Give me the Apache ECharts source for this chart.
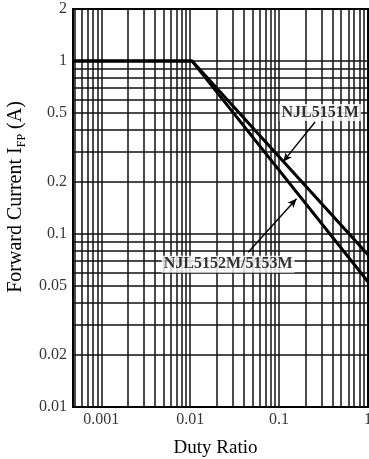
<!DOCTYPE html>
<html>
<head>
<meta charset="utf-8">
<script src="https://cdn.jsdelivr.net/npm/echarts@6/dist/echarts.min.js"></script>
<style>
  html, body { margin: 0; padding: 0; background: #ffffff; }
  #chart { width: 369px; height: 459px; }
</style>
</head>
<body>
<div id="chart"></div>
<script>
// Pulse forward current derating vs. duty ratio (log-log)
const dutyRatio = [0.00048, 0.0105, 1];
const ifpNJL5151M = [1, 1, 0.076];
const ifpNJL5152M = [1, 1, 0.053];

const xTickValues = [0.001, 0.01, 0.1, 1];
const xTickLabels = ['0.001', '0.01', '0.1', '1'];
const yTickValues = [0.01, 0.02, 0.05, 0.1, 0.2, 0.5, 1, 2];
const yTickLabels = ['0.01', '0.02', '0.05', '0.1', '0.2', '0.5', '1', '2'];

// log grid: mantissas 1..9 for each decade shown
const gridMantissas = [1, 2, 3, 4, 5, 6, 7, 8, 9];
const xGridDecades = [0.0001, 0.001, 0.01, 0.1];
const yGridDecades = [0.01, 0.1, 1];

const X_MIN = 0.00048, X_MAX = 1, Y_MIN = 0.01, Y_MAX = 2;

// callout text anchors and leader lines (in data units)
const calloutNames = ['NJL5151M', 'NJL5152M/5153M'];
const calloutAt = [[0.29, 0.505], [0.0267, 0.0669]];
const leaderFrom = [[0.254, 0.444], [0.0449, 0.0785]];
const leaderTo = [[0.111, 0.262], [0.157, 0.16]];

const SERIF = '"Liberation Serif", "Times New Roman", serif';
const INK = '#000000';

function gridValues(decades, lo, hi) {
  const out = [];
  decades.forEach(d => gridMantissas.forEach(m => {
    const v = +(m * d).toPrecision(6);
    if (v > lo * 1.0001 && v < hi * 0.9999 && v <= 1) out.push(v);
  }));
  return out;
}
const xGridLines = gridValues(xGridDecades, X_MIN, X_MAX);
const yGridLines = gridValues(yGridDecades, Y_MIN, Y_MAX);

const chart = echarts.init(document.getElementById('chart'), null, { renderer: 'canvas' });

const gridLineStyle = { color: '#111111', width: 1.5, type: 'solid' };

// each grid line spans the full plot, given as two end points in data units
const gridSegments = xGridLines.map(v => [{ coord: [v, Y_MIN] }, { coord: [v, Y_MAX] }])
  .concat(yGridLines.map(v => [{ coord: [X_MIN, v] }, { coord: [X_MAX, v] }]));

chart.setOption({
  backgroundColor: '#ffffff',
  animation: false,
  grid: {
    left: 73, right: 1, top: 9, bottom: 52,
    outerBoundsMode: 'none', containLabel: false,
    show: true, borderColor: INK, borderWidth: 2, backgroundColor: 'transparent'
  },
  xAxis: {
    type: 'log', logBase: 10, min: X_MIN, max: X_MAX,
    axisLine: { show: true, lineStyle: { color: INK, width: 2 } },
    axisTick: { show: false }, axisLabel: { show: false }, splitLine: { show: false },
    name: 'Duty Ratio', nameLocation: 'middle', nameGap: 32,
    nameTextStyle: { fontFamily: SERIF, fontSize: 19, color: INK, padding: [0, 10, 0, 0] }
  },
  yAxis: {
    type: 'log', logBase: 10, min: Y_MIN, max: Y_MAX,
    axisLine: { show: true, lineStyle: { color: INK, width: 2 } },
    axisTick: { show: false }, axisLabel: { show: false }, splitLine: { show: false },
    name: 'Forward Current I{s|FP} (A)', nameLocation: 'middle', nameGap: 45, nameRotate: 90,
    nameTextStyle: {
      fontFamily: SERIF, fontSize: 20, color: INK, lineHeight: 24, padding: [0, 0, 0, 22],
      rich: { s: { fontFamily: SERIF, fontSize: 12, color: INK, verticalAlign: 'bottom', lineHeight: 18 } }
    }
  },
  series: [
    {
      // log grid lines
      type: 'scatter', silent: true, z: 1, data: [],
      markLine: {
        silent: true, symbol: ['none', 'none'], label: { show: false },
        lineStyle: gridLineStyle, animation: false,
        data: gridSegments
      }
    },
    {
      name: 'NJL5151M', type: 'line', z: 5, symbol: 'none', clip: true,
      lineStyle: { color: INK, width: 3 },
      data: dutyRatio.map((d, i) => [d, ifpNJL5151M[i]])
    },
    {
      name: 'NJL5152M/5153M', type: 'line', z: 5, symbol: 'none', clip: true,
      lineStyle: { color: INK, width: 3 },
      data: dutyRatio.map((d, i) => [d, ifpNJL5152M[i]])
    },
    {
      // y tick labels
      type: 'scatter', silent: true, symbolSize: 0, clip: false, z: 6,
      data: yTickValues.map((v, i) => ({ value: [X_MIN, v], label: { formatter: yTickLabels[i] } })),
      label: { show: true, position: 'left', distance: 6, fontFamily: SERIF, fontSize: 16, color: INK }
    },
    {
      // x tick labels
      type: 'scatter', silent: true, symbolSize: 0, clip: false, z: 6,
      data: xTickValues.map((v, i) => ({ value: [v, Y_MIN], label: { formatter: xTickLabels[i] } })),
      label: { show: true, position: 'bottom', distance: 5, fontFamily: SERIF, fontSize: 16, color: INK }
    },
    {
      // callout captions and leader arrows
      type: 'scatter', silent: true, symbolSize: 0, clip: false, z: 8,
      data: calloutNames.map((n, i) => ({ value: calloutAt[i], label: { formatter: n } })),
      label: {
        show: true, position: 'inside', fontFamily: SERIF, fontSize: 16, fontWeight: 'bold',
        color: INK, backgroundColor: '#ffffff', padding: [1, 2, 0, 2]
      },
      markLine: {
        silent: true, symbol: ['none', 'arrow'], symbolSize: [6, 9], label: { show: false },
        lineStyle: { color: INK, width: 1.4, type: 'solid' }, animation: false,
        data: leaderFrom.map((f, i) => [{ coord: f }, { coord: leaderTo[i] }])
      }
    }
  ]
});
</script>
</body>
</html>
